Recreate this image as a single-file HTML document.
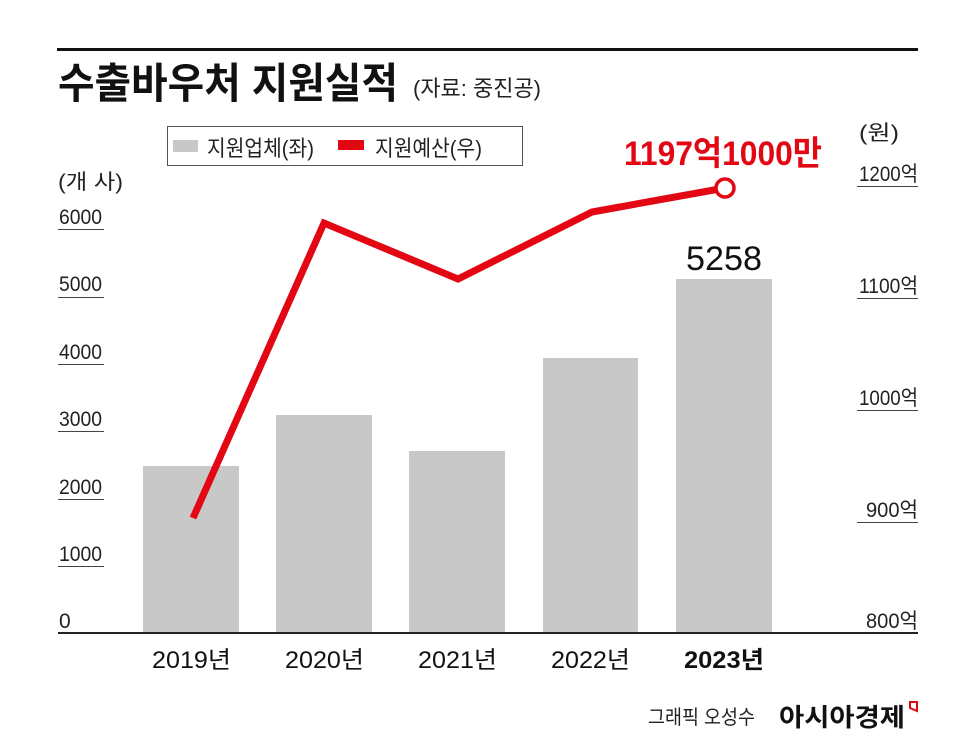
<!DOCTYPE html>
<html><head><meta charset="utf-8"><style>
body{margin:0;background:#fff;}
svg text{font-family:"Liberation Sans","Noto Sans CJK KR",sans-serif;}
</style></head><body>
<svg width="970" height="742" viewBox="0 0 970 742" xmlns="http://www.w3.org/2000/svg">
<rect width="970" height="742" fill="#fff"/>
<rect x="57" y="48" width="861" height="3" fill="#111"/>
<text x="58" y="98" font-size="42" font-weight="bold" fill="#111" textLength="340" lengthAdjust="spacingAndGlyphs">수출바우처 지원실적</text>
<text x="413" y="96" font-size="22" fill="#222" textLength="128" lengthAdjust="spacingAndGlyphs">(자료: 중진공)</text>
<rect x="167.5" y="126.5" width="355" height="39" fill="#fff" stroke="#555" stroke-width="1"/>
<rect x="173" y="140" width="25" height="12" fill="#c8c8c8"/>
<text x="207" y="156" font-size="22" fill="#222" textLength="107" lengthAdjust="spacingAndGlyphs">지원업체(좌)</text>
<rect x="338" y="140" width="26" height="10" fill="#e30613"/>
<text x="375" y="156" font-size="22" fill="#222" textLength="107" lengthAdjust="spacingAndGlyphs">지원예산(우)</text>
<text x="58" y="189" font-size="21" fill="#222" textLength="65" lengthAdjust="spacingAndGlyphs">(개 사)</text>
<text x="859" y="140" font-size="21" fill="#222" textLength="40" lengthAdjust="spacingAndGlyphs">(원)</text>
<g font-size="21" fill="#222">
<text x="59" y="224" textLength="43" lengthAdjust="spacingAndGlyphs">6000</text>
<text x="59" y="291" textLength="43" lengthAdjust="spacingAndGlyphs">5000</text>
<text x="59" y="359" textLength="43" lengthAdjust="spacingAndGlyphs">4000</text>
<text x="59" y="426" textLength="43" lengthAdjust="spacingAndGlyphs">3000</text>
<text x="59" y="494" textLength="43" lengthAdjust="spacingAndGlyphs">2000</text>
<text x="59" y="561" textLength="43" lengthAdjust="spacingAndGlyphs">1000</text>
<text x="59" y="628">0</text>
<text x="859" y="181" textLength="59" lengthAdjust="spacingAndGlyphs">1200억</text>
<text x="859" y="293" textLength="59" lengthAdjust="spacingAndGlyphs">1100억</text>
<text x="859" y="405" textLength="59" lengthAdjust="spacingAndGlyphs">1000억</text>
<text x="866" y="517" textLength="52" lengthAdjust="spacingAndGlyphs">900억</text>
<text x="866" y="628" textLength="52" lengthAdjust="spacingAndGlyphs">800억</text>
</g>
<g stroke="#444" stroke-width="1">
<line x1="58" y1="229.5" x2="104" y2="229.5"/><line x1="58" y1="297.5" x2="104" y2="297.5"/>
<line x1="58" y1="364.5" x2="104" y2="364.5"/><line x1="58" y1="431.5" x2="104" y2="431.5"/>
<line x1="58" y1="499.5" x2="104" y2="499.5"/><line x1="58" y1="566.5" x2="104" y2="566.5"/>
<line x1="857" y1="186.5" x2="918" y2="186.5"/><line x1="857" y1="298.5" x2="918" y2="298.5"/>
<line x1="857" y1="410.5" x2="918" y2="410.5"/><line x1="857" y1="522.5" x2="918" y2="522.5"/>
</g>
<g fill="#c8c8c8">
<rect x="143" y="466" width="96" height="167"/><rect x="276" y="415" width="96" height="218"/>
<rect x="409" y="451" width="96" height="182"/><rect x="543" y="358" width="95" height="275"/>
<rect x="676" y="279" width="96" height="354"/>
</g>
<rect x="58" y="632" width="860" height="2" fill="#222"/>
<polyline points="193,518 324,223 458,279 592,212 725,188" fill="none" stroke="#e30613" stroke-width="7" stroke-linejoin="miter"/>
<circle cx="725" cy="188" r="9" fill="#fff" stroke="#e30613" stroke-width="3.5"/>
<text x="624" y="165" font-size="34" font-weight="bold" fill="#e30613" textLength="198" lengthAdjust="spacingAndGlyphs">1197억1000만</text>
<text x="686" y="270" font-size="34" fill="#111" textLength="76" lengthAdjust="spacingAndGlyphs">5258</text>
<g font-size="24" fill="#111">
<text x="152" y="668" textLength="79" lengthAdjust="spacingAndGlyphs">2019년</text>
<text x="285" y="668" textLength="79" lengthAdjust="spacingAndGlyphs">2020년</text>
<text x="418" y="668" textLength="79" lengthAdjust="spacingAndGlyphs">2021년</text>
<text x="551" y="668" textLength="79" lengthAdjust="spacingAndGlyphs">2022년</text>
<text x="684" y="668" font-weight="bold" textLength="80" lengthAdjust="spacingAndGlyphs">2023년</text>
</g>
<text x="648" y="724" font-size="20" fill="#222" textLength="107" lengthAdjust="spacingAndGlyphs">그래픽 오성수</text>
<text x="779" y="726" font-size="25" font-weight="bold" fill="#111" textLength="126" lengthAdjust="spacingAndGlyphs">아시아경제</text>
<path d="M910 702 h7 v9 l-7 -3z" fill="none" stroke="#e30613" stroke-width="2"/>
</svg>
</body></html>
